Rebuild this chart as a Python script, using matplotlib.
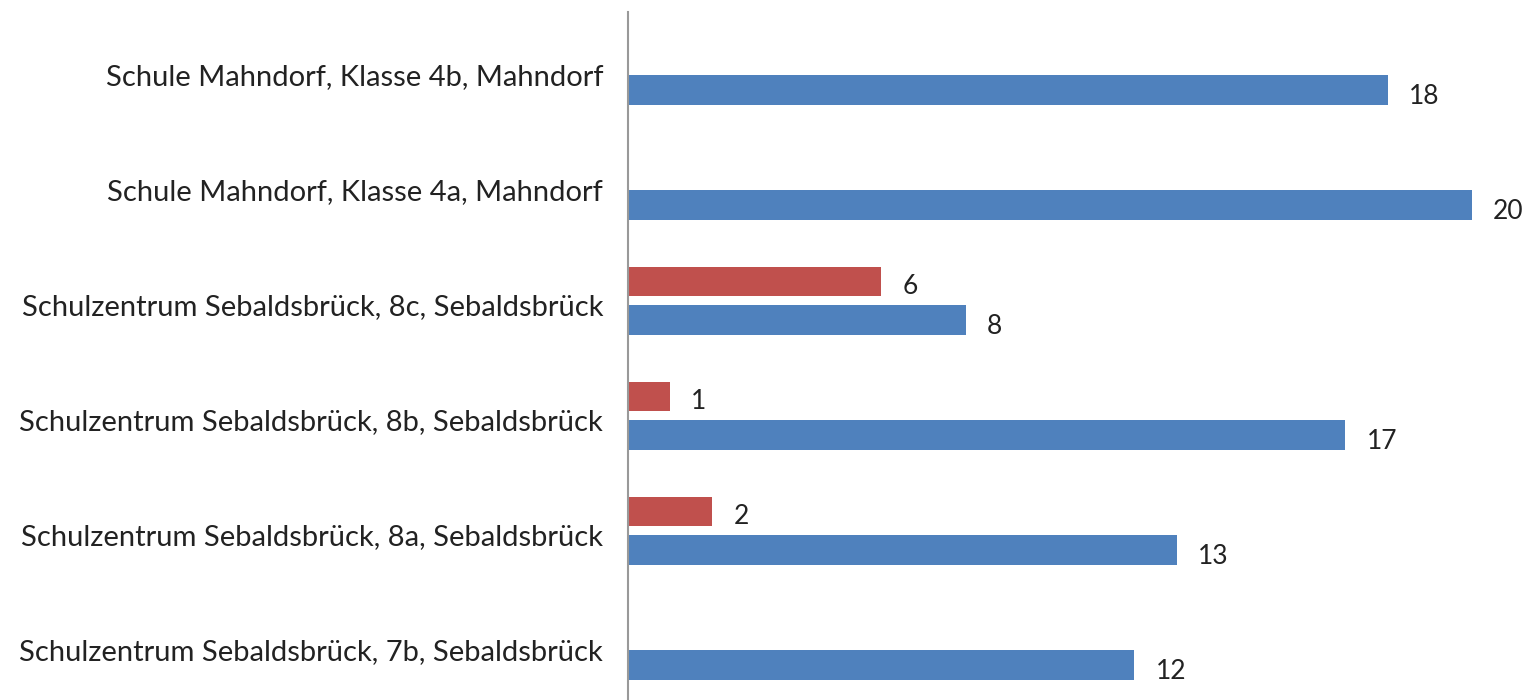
import matplotlib
matplotlib.use("Agg")
import matplotlib.pyplot as plt
import numpy as np

# Daten (von oben nach unten)
categories = [
    "Schule Mahndorf, Klasse 4b, Mahndorf",
    "Schule Mahndorf, Klasse 4a, Mahndorf",
    "Schulzentrum Sebaldsbrück, 8c, Sebaldsbrück",
    "Schulzentrum Sebaldsbrück, 8b, Sebaldsbrück",
    "Schulzentrum Sebaldsbrück, 8a, Sebaldsbrück",
    "Schulzentrum Sebaldsbrück, 7b, Sebaldsbrück",
]
blue_values = [18, 20, 8, 17, 13, 12]
red_values = [None, None, 6, 1, 2, None]

blue = "#4F81BD"
red = "#C0504D"

plt.rcParams['font.family'] = ['Lato', 'DejaVu Sans']

fig = plt.figure(figsize=(15.29, 7), dpi=100)
ax = fig.add_axes([628 / 1529, 0, 1 - 628 / 1529, 1 - 12 / 700])

y = np.arange(len(categories))
offset = 0.335
h = 0.26

ax.barh(y, blue_values, height=h, color=blue)
for i, v in enumerate(red_values):
    if v is not None:
        ax.barh(y[i] - offset, v, height=h, color=red)

# Werte-Beschriftungen
for i, v in enumerate(blue_values):
    ax.text(v + 0.5, y[i] + 0.06, str(v), va="center", ha="left", fontsize=19, color="#222222")
for i, v in enumerate(red_values):
    if v is not None:
        ax.text(v + 0.5, y[i] - offset + 0.04, str(v), va="center", ha="left", fontsize=19, color="#222222")

# Kategorien links
ax.set_yticks(y - offset / 2 + 0.03)
ax.set_yticklabels(categories, fontsize=21, color="#222222")
ax.tick_params(axis="y", length=0, pad=18)
ax.set_xticks([])

ax.set_xlim(0, 901 / 42.2)
ax.set_ylim(5 + 35 / 115, -78 / 115)

for s in ["top", "right", "bottom"]:
    ax.spines[s].set_visible(False)
ax.spines["left"].set_color("#999999")
ax.spines["left"].set_linewidth(1.5)

fig.savefig("out.png", dpi=100)
